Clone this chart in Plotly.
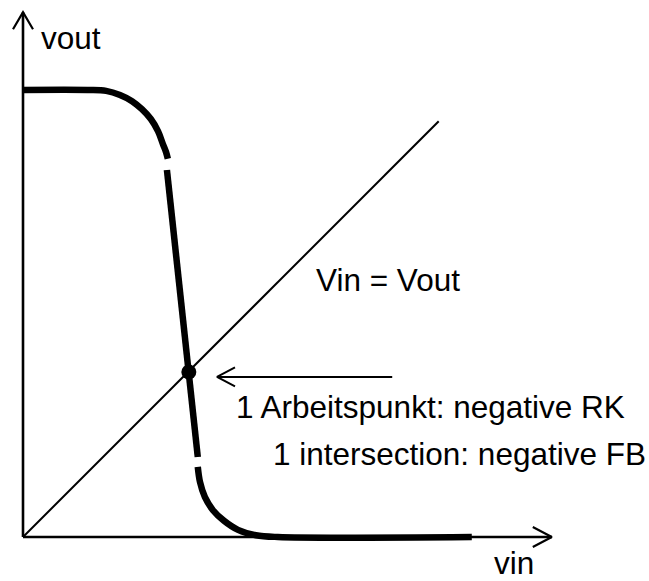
import plotly.graph_objects as go

# ---- data (vin, vout in units of VDD) ----
# upper branch of the inverter transfer curve
upper_vin = [0.0, 0.145, 0.186, 0.217, 0.244, 0.266, 0.286, 0.302, 0.313, 0.320, 0.324]
upper_vout = [1.0, 1.0, 0.998, 0.989, 0.975, 0.957, 0.935, 0.908, 0.879, 0.861, 0.846]
# steep middle branch
mid_vin = [0.322, 0.391]
mid_vout = [0.821, 0.179]
# lower branch
lower_vin = [0.391, 0.396, 0.407, 0.425, 0.450, 0.481, 0.521, 0.570, 1.004]
lower_vout = [0.157, 0.123, 0.089, 0.060, 0.036, 0.016, 0.004, 0.0, 0.0]
# Vin = Vout line
diag_vin = [0.0, 0.93]
diag_vout = [0.0, 0.93]
# operating point
op_vin = [0.371]
op_vout = [0.369]
# pointer arrow (tail, tip)
pointer_vin = [0.826, 0.434]
pointer_vout = [0.358, 0.358]
# axis extents
x_axis_max = 1.183
y_axis_max = 1.174

# labels: text, left x, baseline y
label_texts = ["vout", "vin", "Vin = Vout", "1 Arbeitspunkt: negative RK", "1 intersection: negative FB"]
label_x = [0.038, 1.051, 0.653, 0.474, 0.557]
label_y = [1.0895, -0.085, 0.548, 0.264, 0.159]

# ---- geometry of the canvas ----
W, H = 649, 581
S = 447.0          # pixels per unit
OX, OY = 23, 537   # pixel position of the origin

FONT = dict(family="Liberation Sans, Arial, sans-serif", size=31.5, color="black")

fig = go.Figure()


def add_line(xs, ys, width, shape="linear"):
    fig.add_trace(go.Scatter(x=xs, y=ys, mode="lines",
                             line=dict(color="black", width=width, shape=shape),
                             hoverinfo="skip", showlegend=False))


def chevron(tipx, tipy, dx, dy, length_px, half_px, width):
    # dx, dy: unit direction in which the arrow points
    L = length_px / S
    h = half_px / S
    bx, by = tipx - dx * L, tipy - dy * L
    px, py = -dy, dx
    xs = [bx + px * h, tipx, bx - px * h]
    ys = [by + py * h, tipy, by - py * h]
    add_line(xs, ys, width)


# axes with arrowheads
add_line([0, x_axis_max], [0, 0], 2.6)
add_line([0, 0], [0, y_axis_max], 2.6)
chevron(x_axis_max, 0, 1, 0, 19, 10, 2.2)
chevron(0, y_axis_max, 0, 1, 17, 10, 2.2)

# Vin = Vout
add_line(diag_vin, diag_vout, 2.0)

# transfer curve
add_line(upper_vin, upper_vout, 6.5, "spline")
add_line(mid_vin, mid_vout, 6.5)
add_line(lower_vin, lower_vout, 6.5, "spline")

# operating point
fig.add_trace(go.Scatter(x=op_vin, y=op_vout, mode="markers",
                         marker=dict(color="black", size=15),
                         hoverinfo="skip", showlegend=False))

# pointer arrow
add_line(pointer_vin, pointer_vout, 2.0)
chevron(pointer_vin[1], pointer_vout[1], -1, 0, 18, 9.5, 2.0)

# labels: anchor on the baseline, shift down by the font descent
desc_px = 0.21 * FONT["size"]
for t, x, y in zip(label_texts, label_x, label_y):
    fig.add_annotation(x=x, y=y, text=t, showarrow=False,
                       xanchor="left", yanchor="bottom", borderpad=0,
                       yshift=-desc_px, font=FONT)

fig.update_layout(
    width=W, height=H,
    margin=dict(l=0, r=0, t=0, b=0),
    paper_bgcolor="white", plot_bgcolor="white",
    xaxis=dict(range=[-OX / S, (W - OX) / S], visible=False, fixedrange=True),
    yaxis=dict(range=[-(H - OY) / S, OY / S], visible=False, fixedrange=True),
    showlegend=False,
)

fig.write_html(
    "out.html",
    config={"displayModeBar": False},
    post_script="document.body.style.margin='0';document.body.style.overflow='hidden';",
)
